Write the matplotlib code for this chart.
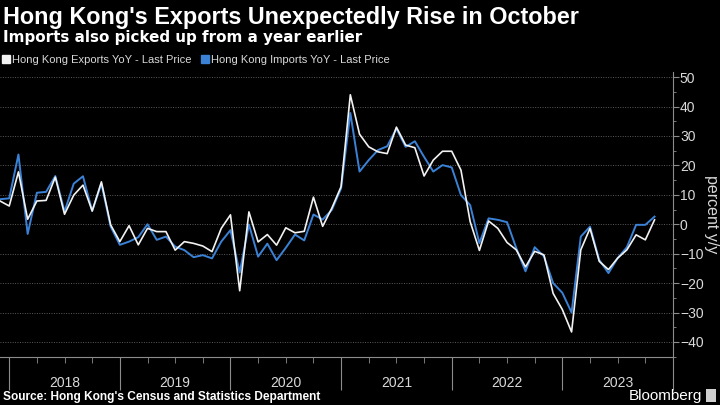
import matplotlib
matplotlib.use("Agg")
import matplotlib.pyplot as plt
import matplotlib.ticker as mticker
from matplotlib.lines import Line2D
import numpy as np
import pandas as pd

# Monthly data, Nov 2017 .. Oct 2023 (month-end)
months = pd.date_range("2017-11-30", "2023-10-31", freq="ME")
exports_yoy = [7.9, 6.2, 17.8, 1.7, 7.9, 8.1, 16.0, 3.4, 9.9, 13.3, 4.5, 14.4,
               -0.2, -5.9, -0.5, -7.0, -1.4, -2.5, -2.5, -8.8, -5.9, -6.5, -7.4, -9.3,
               -1.4, 3.2, -22.6, 4.2, -6.0, -3.5, -7.1, -1.2, -2.9, -2.4, 9.2, -0.7,
               5.5, 12.8, 44.0, 30.6, 26.3, 24.6, 24.0, 33.0, 26.9, 26.0, 16.4, 21.8,
               24.8, 24.8, 18.4, 0.9, -8.9, 1.1, -1.4, -6.2, -8.7, -14.5, -9.2, -10.4,
               -23.5, -29.0, -36.6, -8.7, -1.4, -12.6, -15.4, -11.5, -8.7, -3.6, -5.3, 1.5]
imports_yoy = [8.5, 8.8, 23.7, -3.3, 10.7, 11.0, 16.4, 4.3, 13.8, 16.3, 4.5, 13.8,
               -0.8, -7.0, -5.9, -4.4, 0.0, -5.3, -4.2, -7.6, -8.8, -11.2, -10.5, -11.6,
               -5.9, -2.0, -16.4, -0.1, -11.0, -6.6, -12.2, -8.0, -3.5, -5.5, 3.3, 1.6,
               4.9, 12.2, 37.8, 17.9, 21.8, 25.2, 26.5, 32.5, 26.3, 28.2, 22.9, 17.9,
               20.1, 19.3, 9.9, 6.5, -6.4, 2.0, 1.5, 0.7, -8.1, -16.0, -7.8, -10.9,
               -20.0, -23.3, -30.0, -4.2, -0.8, -12.1, -16.6, -11.5, -7.8, -0.2, -0.2, 2.6]
year_labels = ["2018", "2019", "2020", "2021", "2022", "2023"]
y_ticks = [-40, -30, -20, -10, 0, 10, 20, 30, 40, 50]

# fractional-year x positions (month-end)
xpos = np.array([m.year + m.month / 12.0 for m in months])

BG = "#000000"
WHITE = "#f2f2f2"
BLUE = "#3b82d6"
GRID = "#5a5a5a"
AXC = "#8c8c8c"
TXT = "#d9d9d9"

plt.rcParams['font.family'] = ['Liberation Sans', 'DejaVu Sans']

fig = plt.figure(figsize=(7.2, 4.05), dpi=100, facecolor=BG)
ax = fig.add_axes([0.0, 0.1193, 0.9347, 0.7027], facecolor=BG)

ax.plot(xpos, imports_yoy, color=BLUE, lw=1.4, zorder=3)
ax.plot(xpos, exports_yoy, color=WHITE, lw=1.2, zorder=4)

ax.set_xlim(2017 + 11 / 12.0, 2023.963)
ax.set_ylim(-45, 51.7)

# y axis on right
ax.yaxis.tick_right()
ax.yaxis.set_label_position("right")
ax.set_yticks(y_ticks)
ax.yaxis.set_minor_locator(mticker.MultipleLocator(5))
ax.tick_params(axis='y', which='major', colors=AXC, length=4, width=0.8,
               labelcolor=TXT, labelsize=10, pad=1)
ax.tick_params(axis='y', which='minor', colors=AXC, length=2, width=0.6)
ax.set_ylabel("percent y/y", color=TXT, fontsize=11.5, rotation=270, labelpad=11)

# x axis: year boundaries as long ticks, quarter minor ticks, labels mid-year
years = [int(y) for y in year_labels]
ax.set_xticks([y for y in years] + [years[-1] + 1])
ax.xaxis.set_major_formatter(mticker.NullFormatter())
quarters = [y + q / 4.0 for y in years for q in (1, 2, 3)]
ax.set_xticks(quarters, minor=True)

def mid_fmt(x, pos):
    frac = x - np.floor(x)
    if abs(frac - 0.5) < 1e-6:
        return str(int(np.floor(x)))
    return ""

ax.xaxis.set_minor_formatter(mticker.FuncFormatter(mid_fmt))
ax.tick_params(axis='x', which='major', colors=AXC, length=24, width=0.8)
ax.tick_params(axis='x', which='minor', colors=AXC, length=4, width=0.6,
               labelcolor=TXT, labelsize=10, pad=10)

for s in ("left", "top"):
    ax.spines[s].set_visible(False)
for s in ("right", "bottom"):
    ax.spines[s].set_color(AXC)
    ax.spines[s].set_linewidth(0.8)

ax.grid(axis='y', which='major', color=GRID, linestyle=(0, (1, 1.5)), linewidth=0.7)
ax.set_axisbelow(True)

# titles
fig.text(0.004, 0.956, "Hong Kong's Exports Unexpectedly Rise in October",
         color="white", fontsize=16.8, fontweight="bold", ha="left", va="center")
fig.text(0.004, 0.908, "Imports also picked up from a year earlier",
         color="white", fontsize=10.9, fontweight="bold", ha="left", va="center",
         family=['DejaVu Sans'])

handles = [Line2D([0], [0], marker='s', color='none', markerfacecolor=WHITE,
                  markeredgecolor=WHITE, markersize=6),
           Line2D([0], [0], marker='s', color='none', markerfacecolor=BLUE,
                  markeredgecolor=BLUE, markersize=6)]
fig.legend(handles, ["Hong Kong Exports YoY - Last Price", "Hong Kong Imports YoY - Last Price"],
           loc="center left", bbox_to_anchor=(0.0, 0.852), ncol=2, frameon=False,
           handlelength=0.7, handletextpad=0.15, columnspacing=0.9,
           fontsize=8.0, labelcolor=TXT, borderaxespad=0, borderpad=0.2)

fig.text(0.004, 0.02, "Source: Hong Kong's Census and Statistics Department",
         color="white", fontsize=8.6, fontweight="bold", ha="left", va="center")
fig.text(0.975, 0.022, "Bloomberg", color="white", fontsize=11, ha="right", va="center")
fig.patches.append(plt.Rectangle((0.98, 0.008), 0.014, 0.032, transform=fig.transFigure,
                                 facecolor="#cfcfcf", edgecolor="none"))

fig.savefig("out.png", dpi=100, facecolor=BG)
